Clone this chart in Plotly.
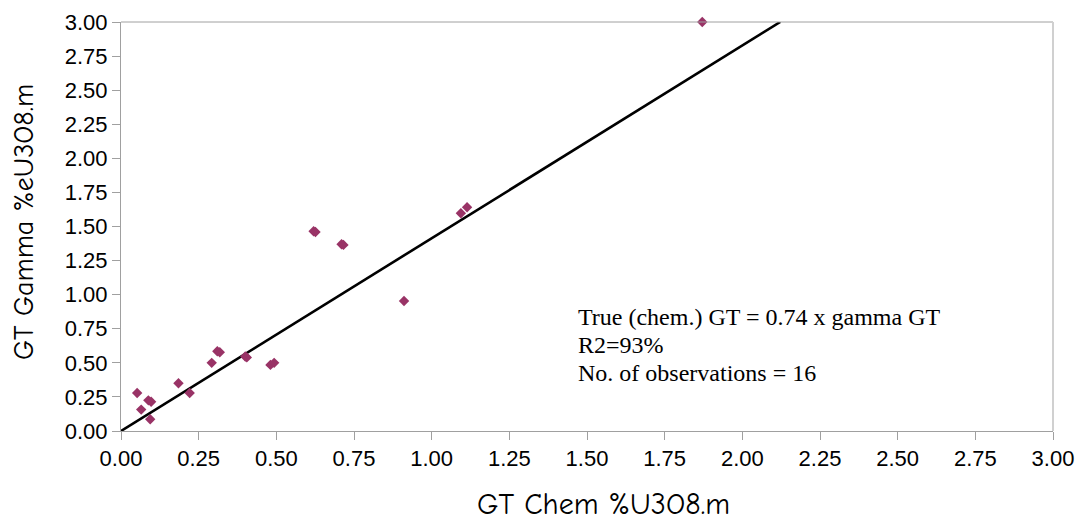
import plotly.graph_objects as go

# Data
chem_gt = [0.052, 0.065, 0.088, 0.097, 0.094, 0.185, 0.221, 0.292, 0.310, 0.318,
           0.400, 0.405, 0.481, 0.493, 0.620, 0.626, 0.710, 0.716, 0.911, 1.094,
           1.114, 1.871]
gamma_gt = [0.279, 0.157, 0.225, 0.215, 0.086, 0.350, 0.279, 0.500, 0.585, 0.578,
            0.546, 0.540, 0.485, 0.500, 1.465, 1.460, 1.370, 1.365, 0.953, 1.597,
            1.641, 3.000]
trend_x = [0.0, 2.122]
trend_y = [0.0, 3.0]
tick_vals = [0.0, 0.25, 0.5, 0.75, 1.0, 1.25, 1.5, 1.75, 2.0, 2.25, 2.5, 2.75, 3.0]
tick_text = [f"{v:.2f}" for v in tick_vals]
note_lines = ["True (chem.) GT = 0.74 x gamma GT", "R2=93%", "No. of observations = 16"]
x_title = "GT Chem %U3O8.m"
y_title = "GT Gamma %eU3O8.m"

# figure fills the whole 1081x522 window (body margin removed below)
W, H = 1081, 522
ML, MT = 121, 22
MR = W - 1053
MB = H - 431
PW, PH = W - ML - MR, H - MT - MB


def px(X):
    return (X - ML) / PW


def py(Y):
    return 1 - (Y - MT) / PH


fig = go.Figure()
fig.add_trace(go.Scatter(x=trend_x, y=trend_y, mode="lines",
                         line=dict(color="black", width=2.6),
                         showlegend=False, hoverinfo="skip", cliponaxis=False))
fig.add_trace(go.Scatter(x=chem_gt, y=gamma_gt, mode="markers",
                         marker=dict(symbol="diamond", size=8, color="#993366",
                                     line=dict(width=0)),
                         showlegend=False, cliponaxis=False))

axis_common = dict(range=[0, 3], tickvals=tick_vals, ticktext=tick_text,
                   showgrid=False, zeroline=False, showline=True, automargin=False,
                   linecolor="#a0a0a0", linewidth=1, ticks="outside",
                   ticklen=8, tickcolor="#a0a0a0", ticklabeloverflow="allow",
                   tickfont=dict(family="Liberation Sans, Arial", size=22, color="black"))

title_font = dict(family="Comic Sans MS, Comic Neue, DejaVu Sans", size=28, color="black")
note_font = dict(family="Liberation Serif, Times New Roman", size=24, color="black")

annotations = [
    dict(text=x_title, xref="paper", yref="paper", x=px(603), y=py(504),
         xanchor="center", yanchor="middle", showarrow=False,
         font=dict(title_font, size=30)),
    dict(text=y_title, xref="paper", yref="paper", x=px(24), y=py(222),
         xanchor="center", yanchor="middle", textangle=-90, showarrow=False, font=title_font),
]
for i, line in enumerate(note_lines):
    annotations.append(dict(text=line, xref="paper", yref="paper",
                            x=px(576), y=py(317 + 28 * i),
                            xanchor="left", yanchor="middle", showarrow=False,
                            align="left", font=note_font))

fig.update_layout(
    width=W, height=H,
    margin=dict(l=ML, r=MR, t=MT, b=MB, autoexpand=False),
    plot_bgcolor="white", paper_bgcolor="white",
    xaxis=dict(axis_common),
    yaxis=dict(axis_common),
    shapes=[
        dict(type="line", xref="paper", yref="paper", x0=0, x1=1, y0=1, y1=1,
             line=dict(color="#a0a0a0", width=1)),
        dict(type="line", xref="paper", yref="paper", x0=1, x1=1, y0=0, y1=1,
             line=dict(color="#d0d0d0", width=2)),
    ],
    annotations=annotations,
)

fig.write_html("out.html", config={"displayModeBar": False},
               post_script="document.body.style.margin='0';document.body.style.overflow='hidden';")
